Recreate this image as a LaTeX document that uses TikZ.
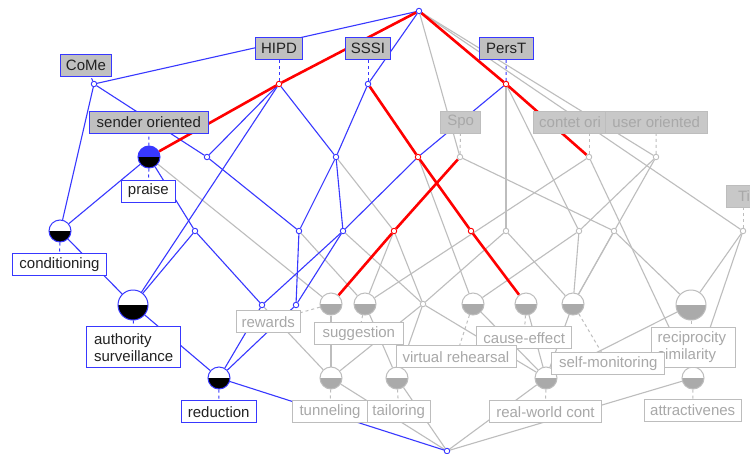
\documentclass[tikz,border=0pt]{standalone}
\usepackage{fontspec}
\setmainfont{Liberation Sans}
\definecolor{bl}{HTML}{3838FF}
\definecolor{gr}{HTML}{BDBDBD}
\definecolor{lfill}{HTML}{C0C0C0}
\definecolor{ffill}{HTML}{C8C8C8}
\definecolor{ftext}{HTML}{A8A8A8}
\definecolor{dtext}{HTML}{222222}
\definecolor{hfill}{HTML}{AAAAAA}
\pgfdeclarelayer{edgelayer}
\pgfsetlayers{edgelayer,main}
\tikzset{
  bedge/.style={draw=bl, line width=1.1pt},
  gedge/.style={draw=gr, line width=1.1pt},
  redge/.style={draw=red, line width=2.6pt},
  bdash/.style={draw=bl, line width=1pt, dash pattern=on 3pt off 3pt},
  gdash/.style={draw=gr, line width=1pt, dash pattern=on 3pt off 3pt},
  lab/.style={font=\fontsize{15}{18}\selectfont, inner xsep=0pt, inner ysep=0pt, minimum height=22pt, line width=1pt, align=center},
  alab/.style={lab, draw=bl, fill=lfill, text=dtext},
  falab/.style={lab, draw=gr, fill=ffill, text=ftext},
  olab/.style={lab, draw=bl, fill=white, text=dtext},
  folab/.style={lab, draw=gr, fill=white, text=ftext},
  sb/.style={circle, draw=bl, fill=white, line width=0.9pt, minimum size=5.5pt, inner sep=0pt},
  sr/.style={circle, draw=red, fill=white, line width=0.9pt, minimum size=5.5pt, inner sep=0pt},
  sg/.style={circle, draw=gr, fill=white, line width=0.9pt, minimum size=5.5pt, inner sep=0pt},
  hb/.style={circle, draw=bl, fill=white, line width=1pt, inner sep=0pt,
    path picture={\fill[black] (path picture bounding box.west) rectangle (path picture bounding box.south east);}},
  hbb/.style={circle, draw=bl, fill=bl, line width=1pt, inner sep=0pt,
    path picture={\fill[black] (path picture bounding box.west) rectangle (path picture bounding box.south east);}},
  hg/.style={circle, draw=gr, fill=white, line width=1pt, inner sep=0pt,
    path picture={\fill[hfill] (path picture bounding box.west) rectangle (path picture bounding box.south east);}},
}
\begin{document}
\begin{tikzpicture}[x=1pt,y=-1pt]
\useasboundingbox (0,0) rectangle (750,453);
\clip (0,0) rectangle (750,453);
% ---------- concept nodes ----------
\node[sb] (T) at (419,11) {};
\node[sb] (c1) at (94,84) {};
\node[sr] (h) at (279,84) {};
\node[sb] (s) at (368,84) {};
\node[sr] (p) at (506,84) {};
\node[hbb, minimum size=22pt] (pr) at (149,157) {};
\node[sb] (b1) at (207,157) {};
\node[sb] (b2) at (336,157) {};
\node[sr] (r1) at (418,157) {};
\node[sg] (g1) at (460,157) {};
\node[sg] (r2) at (589,157) {};
\node[sg] (g2) at (656,157) {};
\node[hb, minimum size=22pt] (cd) at (60,231) {};
\node[sb] (b3) at (195,231) {};
\node[sb] (b4) at (299,231) {};
\node[sb] (b5) at (343,231) {};
\node[sr] (r3) at (394,231) {};
\node[sr] (r4) at (471,231) {};
\node[sg] (g3) at (506,231) {};
\node[sg] (g4) at (579,231) {};
\node[sg] (g5) at (614,231) {};
\node[sg] (g6) at (743,231) {};
\node[hb, minimum size=30pt] (au) at (133,305) {};
\node[sb] (b6) at (262,305) {};
\node[sb] (b7) at (296,305) {};
\node[hg, minimum size=22pt] (g7) at (331,304) {};
\node[hg, minimum size=22pt] (g8) at (365,304) {};
\node[sg] (g9) at (423,304) {};
\node[hg, minimum size=22pt] (g10) at (473,304) {};
\node[hg, minimum size=22pt] (g11) at (526,304) {};
\node[hg, minimum size=22pt] (g12) at (573,304) {};
\node[hg, minimum size=30pt] (g13) at (691,305) {};
\node[hb, minimum size=22pt] (rd) at (219,378) {};
\node[hg, minimum size=22pt] (g14) at (331,378) {};
\node[hg, minimum size=22pt] (g15) at (397,378) {};
\node[hg, minimum size=22pt] (g16) at (546,378) {};
\node[hg, minimum size=22pt] (g17) at (693,378) {};
\node[sb] (B) at (447,451) {};
% ---------- labels ----------
\node[alab, minimum width=51.7pt] (lCoMe) at (86,65) {CoMe};
\node[alab, minimum width=47.7pt] (lHIPD) at (279,48.7) {HIPD};
\node[alab, minimum width=45.4pt] (lSSSI) at (368,48.7) {SSSI};
\node[alab, minimum width=54.3pt] (lPersT) at (506.2,48.7) {PersT};
\node[alab, minimum width=119pt] (lsender) at (148.8,122.2) {sender oriented};
\node[falab, minimum width=40pt] (lSpo) at (460.7,122.2) {Spo};
\node[falab, minimum width=90pt, anchor=west, align=left, inner xsep=6pt] (lcontet) at (532.7,122.2) {contet ori\hphantom{ented}};
\node[falab, minimum width=102.3pt] (luser) at (656.2,122.2) {user oriented};
\node[falab, minimum width=40pt, anchor=west, inner xsep=6pt] (lTir) at (726,196) {Tir};
\node[olab, minimum width=54.7pt] (lpraise) at (148.4,191) {praise};
\node[olab, minimum width=94.4pt] (lcond) at (59.5,264.7) {conditioning};
\node[olab, minimum width=94pt, minimum height=41.3pt, align=left] (lauth) at (133.7,347.3) {authority\\[-1pt]surveillance};
\node[olab, minimum width=75.3pt] (lred) at (218.7,411.7) {reduction};
\node[folab, minimum width=63.7pt] (lrew) at (268.2,321.8) {rewards};
\node[folab, minimum width=89pt] (lsugg) at (358.8,333.3) {suggestion};
\node[folab, minimum width=95pt] (lcause) at (524.2,337.8) {cause-effect};
\node[folab, minimum width=120pt] (lvirt) at (456,356.7) {virtual rehearsal};
\node[folab, anchor=west, minimum height=40.4pt, align=left, inner xsep=6.5pt] (lrecip) at (650.7,347.5) {reciprocity\hphantom{i}\\[-1pt]similarity};
\node[folab, minimum width=113.3pt] (lself) at (608.3,363.8) {self-monitoring};
\node[folab, minimum width=97.3pt] (lattr) at (692.7,410.5) {attractivenes};
\node[folab, minimum width=74.6pt] (ltun) at (330,411.7) {tunneling};
\node[folab, minimum width=62.7pt] (ltail) at (398.7,411.7) {tailoring};
\node[folab, minimum width=112.4pt] (lreal) at (545.5,411.7) {real-world cont};
% ---------- connectors (drawn below nodes and labels) ----------
\begin{pgfonlayer}{edgelayer}
\fill[white] (0,0) rectangle (750,453);
\foreach \a/\b in {T/g1,T/g2,T/g6,p/g3,p/g4,pr/g7,b2/r3,b4/g8,b5/g9,r1/g10,g1/g5,r2/g8,r2/g17,g2/g4,g2/g12,r3/g8,r3/g9,g3/g9,g3/g12,g4/g12,g4/g10,g5/g13,g5/g12,g6/g13,g6/g17,g7/g14,g8/g15,g9/g14,g9/g15,g9/g16,g10/g16,g11/g16,g12/g16,g13/g16,b6/g14,g14/B,g15/B,g16/B,g17/B}
  \draw[gedge] (\a) -- (\b);
\foreach \a/\b in {T/c1,T/s,T/p,T/h,c1/cd,c1/b1,h/b1,h/b2,h/au,s/b2,p/r1,pr/cd,pr/b3,b1/b4,b2/b4,b2/b5,r1/b5,cd/au,b3/au,b3/b6,b4/b7,b5/b6,b5/b7,au/rd,b6/rd,b7/rd,rd/B}
  \draw[bedge] (\a) -- (\b);
\foreach \a/\b in {T/h,h/pr,s/r1,r1/r4,r4/g11,T/p,p/r2,g1/r3,r3/g7}
  \draw[redge] (\a) -- (\b);
% dashed label connectors
\draw[bdash] (c1) -- (lCoMe);
\draw[bdash] (h) -- (lHIPD);
\draw[bdash] (s) -- (lSSSI);
\draw[bdash] (p) -- (lPersT);
\draw[bdash] (pr) -- (lsender);
\draw[bdash] (pr) -- (lpraise);
\draw[bdash] (cd) -- (lcond);
\draw[bdash] (au) -- (lauth);
\draw[bdash] (rd) -- (lred);
\draw[gdash] (g1) -- (lSpo);
\draw[gdash] (r2) -- (r2 |- lcontet.south);
\draw[gdash] (g2) -- (luser);
\draw[gdash] (g6) -- (g6 |- lTir.south);
\draw[gdash] (g7) -- (lrew);
\draw[gdash] (g8) -- (lsugg);
\draw[gdash] (g10) -- (lvirt);
\draw[gdash] (g11) -- (lcause);
\draw[gdash] (g12) -- (lself);
\draw[gdash] (g13) -- (g13 |- lrecip.north);
\draw[gdash] (g17) -- (lattr);
\draw[gdash] (g14) -- (ltun);
\draw[gdash] (g15) -- (ltail);
\draw[gdash] (g16) -- (lreal);
\end{pgfonlayer}
\end{tikzpicture}
\end{document}
